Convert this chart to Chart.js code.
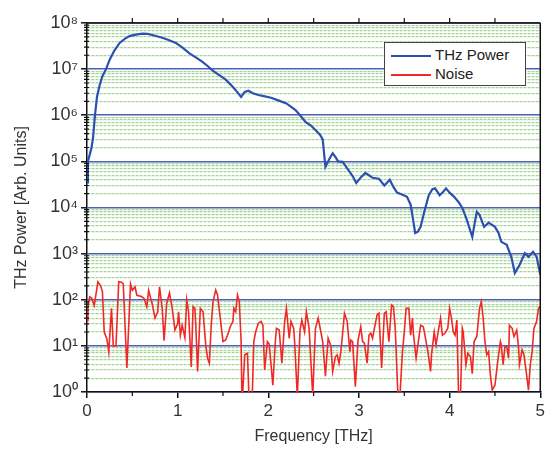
<!DOCTYPE html>
<html>
<head>
<meta charset="utf-8">
<script src="https://cdn.jsdelivr.net/npm/chart.js@4.4.1/dist/chart.umd.min.js"></script>
<style>
  body { margin: 0; background: #fff; }
  #wrap { position: relative; width: 548px; height: 450px; }
  #legend {
    position: absolute; left: 384px; top: 42px; width: 140px; height: 42px;
    border: 1px solid #444; background: #fff;
    font: 15px "Liberation Sans", Arial, sans-serif; color: #222;
  }
  .row { position: absolute; left: 0; height: 20px; line-height: 20px; white-space: nowrap; }
  .row span.line { position: absolute; left: 6px; top: 10px; width: 40px; border-top: 2px solid; }
  .row span.txt { position: absolute; left: 50px; top: 0; }
</style>
</head>
<body>
<div id="wrap">
  <canvas id="chart" width="548" height="450"></canvas>
  <div id="legend">
    <div class="row" style="top:2px"><span class="line" style="border-color:#2c50b0"></span><span class="txt">THz Power</span></div>
    <div class="row" style="top:21px"><span class="line" style="border-color:#f02828"></span><span class="txt">Noise</span></div>
  </div>
</div>
<script>
// THz power spectrum
const freqPower = [0.00, 0.01, 0.03, 0.05, 0.066, 0.088, 0.11, 0.14, 0.17, 0.21, 0.25, 0.30, 0.36, 0.42, 0.47,
  0.54, 0.61, 0.67, 0.72, 0.78, 0.83, 0.90, 0.98, 1.05, 1.13, 1.20, 1.27, 1.33, 1.38, 1.45, 1.53, 1.59, 1.64,
  1.70, 1.74, 1.78, 1.83, 1.89, 1.95, 2.03, 2.11, 2.20, 2.30, 2.35, 2.41, 2.47, 2.52, 2.57, 2.60, 2.63, 2.67,
  2.71, 2.74, 2.77, 2.82, 2.88, 2.93, 2.97, 3.02, 3.07, 3.11, 3.15, 3.22, 3.28, 3.34, 3.38, 3.42, 3.48, 3.53,
  3.57, 3.60, 3.62, 3.65, 3.68, 3.72, 3.77, 3.81, 3.84, 3.89, 3.93, 3.96, 4.00, 4.05, 4.10, 4.14, 4.19, 4.25,
  4.28, 4.30, 4.33, 4.38, 4.43, 4.50, 4.54, 4.57, 4.63, 4.68, 4.72, 4.77, 4.83, 4.87, 4.92, 4.96, 5.00];
const power = [3.5e4, 1e5, 1.4e5, 2e5, 3.2e5, 1e6, 2.5e6, 4.5e6, 7e6, 1e7, 1.6e7, 2.5e7, 3.7e7, 4.6e7, 5.2e7,
  5.6e7, 5.9e7, 5.8e7, 5.5e7, 5.1e7, 4.8e7, 4.3e7, 3.7e7, 2.95e7, 2.2e7, 1.8e7, 1.45e7, 1.17e7, 9.5e6, 7.6e6, 5.9e6, 4.5e6, 3.5e6,
  2.5e6, 3.2e6, 3.4e6, 3.0e6, 2.75e6, 2.6e6, 2.4e6, 2.1e6, 1.8e6, 1.3e6, 1e6, 7.2e5, 6e5, 4.8e5, 3.8e5, 3e5, 7.6e4, 1.1e5,
  1.5e5, 1.25e5, 1e5, 9.8e4, 6.6e4, 4.8e4, 3.4e4, 4.5e4, 5.6e4, 5e4, 4.4e4, 4.2e4, 3e4, 4e4, 2.8e4, 2.1e4, 1.9e4, 1.7e4,
  1.15e4, 5e3, 2.8e3, 3e3, 3.8e3, 8e3, 1.85e4, 2.5e4, 2.6e4, 1.85e4, 2.2e4, 2.6e4, 2.1e4, 1.7e4, 1.3e4, 9.8e3, 5.4e3, 2.3e3,
  5e3, 8e3, 6.9e3, 3.8e3, 4.7e3, 3.8e3, 2.8e3, 1.8e3, 1.55e3, 850, 380, 560, 1020, 850, 1100, 850, 350];

// noise floor
const freqNoise = [0.00, 0.01, 0.03, 0.05, 0.08, 0.12, 0.15, 0.17, 0.19, 0.22, 0.24, 0.27, 0.29, 0.32, 0.35, 0.38, 0.40,
  0.44, 0.48, 0.50, 0.53, 0.55, 0.60, 0.63, 0.66, 0.68, 0.72, 0.75, 0.78, 0.80, 0.83, 0.85, 0.88, 0.91, 0.94, 0.97,
  1.00, 1.01, 1.03, 1.05, 1.08, 1.10, 1.12, 1.15, 1.17, 1.19, 1.20, 1.22, 1.25, 1.28, 1.31, 1.33, 1.35, 1.37, 1.39,
  1.42, 1.44, 1.47, 1.50, 1.53, 1.55, 1.58, 1.61, 1.62, 1.64, 1.66, 1.68, 1.70, 1.71, 1.74, 1.77, 1.79, 1.82, 1.84,
  1.86, 1.89, 1.92, 1.94, 1.96, 1.99, 2.01, 2.05, 2.08, 2.09, 2.12, 2.15, 2.18, 2.20, 2.23, 2.25, 2.28, 2.29, 2.32,
  2.35, 2.37, 2.40, 2.42, 2.45, 2.47, 2.49, 2.52, 2.55, 2.58, 2.60, 2.63, 2.66, 2.69, 2.71, 2.74, 2.76, 2.78, 2.80,
  2.82, 2.84, 2.87, 2.90, 2.91, 2.93, 2.96, 2.99, 3.02, 3.04, 3.06, 3.09, 3.11, 3.13, 3.15, 3.17, 3.20, 3.22, 3.25,
  3.28, 3.30, 3.33, 3.36, 3.38, 3.40, 3.43, 3.45, 3.48, 3.50, 3.52, 3.55, 3.57, 3.59, 3.60, 3.63, 3.66, 3.68, 3.71,
  3.73, 3.76, 3.79, 3.80, 3.83, 3.85, 3.88, 3.90, 3.92, 3.95, 3.98, 4.00, 4.02, 4.04, 4.06, 4.08, 4.10, 4.12, 4.14,
  4.15, 4.18, 4.20, 4.23, 4.25, 4.27, 4.30, 4.33, 4.35, 4.37, 4.39, 4.41, 4.43, 4.45, 4.47, 4.50, 4.53, 4.56, 4.57,
  4.59, 4.61, 4.63, 4.65, 4.66, 4.69, 4.71, 4.74, 4.76, 4.77, 4.80, 4.82, 4.85, 4.87, 4.89, 4.91, 4.93, 4.96, 4.98, 5.00];
const noise = [35, 70, 115, 110, 75, 245, 200, 150, 20, 14, 7.5, 65, 10, 10, 245, 240, 220,
  3.3, 220, 160, 190, 125, 117, 107, 70, 160, 80, 40, 55, 190, 65, 13, 85, 140, 65, 22,
  30, 55, 17, 28, 15, 99, 55, 3.5, 71, 65, 28, 2.8, 65, 55, 10.5, 5.4, 4.2, 28, 91,
  163, 127, 40, 12.4, 13.4, 17, 26, 34, 65, 55, 127, 91, 12.4, 0.5, 6.4, 6.9, 0.5, 0.5, 12.4,
  20, 31, 34, 28, 3.0, 12.4, 11, 1.4, 14.6, 24, 22, 4.2, 34, 65, 14.6, 34, 24, 12.4, 0.8,
  22, 36, 20, 55, 24, 4.5, 0.8, 24, 40, 20, 12.4, 2.2, 14.6, 10, 2.8, 5.8, 6.4, 4.2, 7.5,
  19, 51, 34, 7.5, 13.4, 12.4, 1.3, 13.4, 26, 12.4, 11.4, 4.2, 17, 19, 14.6, 24, 47, 51, 3.3,
  51, 55, 12.4, 77, 71, 24, 0.8, 0.7, 7.5, 20, 65, 65, 17, 40, 19, 5.4, 14.6, 28, 26,
  16, 7.5, 2.8, 6.4, 20, 10.5, 24, 40, 17, 19, 24, 65, 40, 20, 17, 36, 0.7, 0.8, 24,
  20, 3.9, 6.9, 5.8, 2.5, 12.4, 16, 65, 91, 40, 12.4, 6.4, 7.5, 2.3, 1.1, 1.4, 4.5, 12.4, 10.5,
  3.9, 9.6, 9.6, 5.4, 28, 24, 16, 22, 9.6, 3.9, 8.2, 6.4, 2.3, 1.1, 3.9, 7.5, 24, 34, 65, 71];

const freqTicks = [0, 1, 2, 3, 4, 5];
const decades = [0, 1, 2, 3, 4, 5, 6, 7, 8];

const supDigits = { '0': '⁰', '1': '¹', '2': '²', '3': '³', '4': '⁴', '5': '⁵', '6': '⁶', '7': '⁷', '8': '⁸', '9': '⁹' };

function isDecade(v) {
  const l = Math.log10(v);
  return Math.abs(l - Math.round(l)) < 1e-9;
}

// top / right frame and the small ticks
const frame = {
  id: 'frame',
  afterDraw(chart) {
    const { ctx, chartArea: a, scales } = chart;
    const x = scales.x, y = scales.y;
    ctx.save();
    ctx.strokeStyle = '#111';
    ctx.lineWidth = 1.5;
    ctx.beginPath();
    ctx.moveTo(a.left, a.top); ctx.lineTo(a.right, a.top);
    ctx.moveTo(a.right, a.top); ctx.lineTo(a.right, a.bottom);
    ctx.stroke();
    ctx.lineWidth = 1.2;
    ctx.beginPath();
    for (let f = 0.5; f < 5; f += 0.5) {
      const px = x.getPixelForValue(f);
      ctx.moveTo(px, a.top); ctx.lineTo(px, a.top - 5);
      if (f % 1 !== 0) { ctx.moveTo(px, a.bottom); ctx.lineTo(px, a.bottom + 4); }
    }
    for (const d of decades.slice(0, -1)) {
      for (let m = 2; m <= 9; m++) {
        const py = y.getPixelForValue(m * Math.pow(10, d));
        ctx.moveTo(a.left - 3, py); ctx.lineTo(a.left + 2, py);
      }
    }
    ctx.stroke();
    ctx.restore();
  }
};

const ctx = document.getElementById('chart').getContext('2d');
new Chart(ctx, {
  type: 'line',
  data: {
    datasets: [
      {
        label: 'Noise',
        data: freqNoise.map((f, i) => ({ x: f, y: noise[i] })),
        borderColor: '#f02828',
        borderWidth: 1.6,
        pointRadius: 0,
        tension: 0,
      },
      {
        label: 'THz Power',
        data: freqPower.map((f, i) => ({ x: f, y: power[i] })),
        borderColor: '#2c50b0',
        borderWidth: 2.2,
        pointRadius: 0,
        tension: 0,
      },
    ],
  },
  options: {
    responsive: false,
    animation: false,
    layout: { padding: { top: 23, right: 4, left: 0, bottom: 0 } },
    plugins: { legend: { display: false }, tooltip: { enabled: false } },
    scales: {
      x: {
        type: 'linear',
        min: 0,
        max: 5,
        afterBuildTicks: s => { s.ticks = freqTicks.map(v => ({ value: v })); },
        afterFit: s => { s.height = 58; },
        ticks: { color: '#333', font: { family: '"Liberation Sans", Arial', size: 17 }, padding: 3, maxRotation: 0 },
        grid: { drawOnChartArea: false, drawTicks: true, tickLength: 6, color: '#111', lineWidth: 1.5 },
        border: { color: '#111', width: 1.5 },
        title: { display: true, text: 'Frequency [THz]', color: '#333',
          font: { family: '"Liberation Sans", Arial', size: 16 }, padding: { top: 0, bottom: 4 } },
      },
      y: {
        type: 'logarithmic',
        min: 1,
        max: 1e8,
        afterBuildTicks: s => {
          const t = [];
          decades.forEach(d => {
            t.push({ value: Math.pow(10, d), major: true });
            if (d < 8) for (let m = 2; m <= 9; m++) t.push({ value: m * Math.pow(10, d), major: false });
          });
          s.ticks = t;
        },
        afterFit: s => { s.width = 87; },
        ticks: {
          autoSkip: false,
          color: '#333',
          font: { family: '"Liberation Sans", Arial', size: 18 },
          padding: 3,
          callback: v => isDecade(v) ? '10' + supDigits[String(Math.round(Math.log10(v)))] : '',
        },
        grid: {
          drawTicks: true,
          tickLength: 6,
          color: c => (c.tick && isDecade(c.tick.value)) ? '#4d5fbd' : '#a4d595',
          lineWidth: c => (c.tick && isDecade(c.tick.value)) ? 1.6 : 1.2,
          tickColor: c => (c.tick && isDecade(c.tick.value)) ? '#111' : 'rgba(0,0,0,0)',
          tickWidth: 1.5,
        },
        border: {
          color: '#111',
          width: 1.5,
          dash: c => (c.tick && !isDecade(c.tick.value)) ? [3, 1] : [],
        },
        title: { display: true, text: 'THz Power [Arb. Units]', color: '#333',
          font: { family: '"Liberation Sans", Arial', size: 16 }, padding: { top: 12, bottom: 0 } },
      },
    },
  },
  plugins: [frame],
});
</script>
</body>
</html>
